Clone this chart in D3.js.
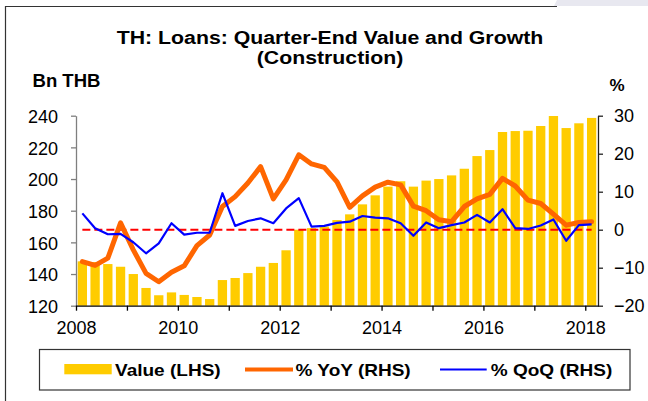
<!DOCTYPE html>
<html>
<head>
<meta charset="utf-8">
<script src="https://cdn.jsdelivr.net/npm/d3@7"></script>
<style>
  html, body { margin: 0; padding: 0; background: #fff; }
  svg { display: block; font-family: "Liberation Sans", Arial, sans-serif; }
</style>
</head>
<body>
<div id="chart"></div>
<script>
const W = 648, H = 401;

// quarters 2008Q1 .. 2018Q1
const START_YEAR = 2008;
const quarters = d3.range(41).map(i => `${START_YEAR + Math.floor(i / 4)}Q${i % 4 + 1}`);

// loan value, Bn THB (LHS)
const valueLHS = [
  148.0, 147.5, 146.3, 144.6, 140.0, 131.2, 126.6, 128.4, 126.8, 125.5,
  124.2, 136.2, 137.5, 140.6, 144.6, 147.0, 155.0, 168.0, 169.0, 170.0,
  174.1, 177.7, 184.0, 189.7, 195.2, 198.6, 195.2, 199.0, 200.0, 202.3,
  206.5, 214.5, 218.3, 229.7, 230.3, 230.5, 233.5, 239.8, 232.2, 235.2,
  238.6
];

// % YoY (RHS)
const yoy = [
  -8.4, -9.4, -7.5, 1.8, -5.3, -11.5, -13.7, -11.2, -9.5, -4.2,
  -1.4, 6.1, 8.7, 12.3, 16.6, 8.1, 13.1, 19.7, 17.3, 16.4,
  12.6, 5.9, 8.9, 11.2, 12.5, 11.8, 6.2, 5.0, 2.6, 2.1,
  6.1, 8.1, 9.3, 13.5, 11.5, 7.8, 6.9, 4.1, 1.2, 1.9,
  2.1
];

// % QoQ (RHS)
const qoq = [
  4.3, 0.4, -1.2, -1.1, -3.3, -6.2, -3.6, 1.7, -1.3, -0.8,
  -0.8, 9.6, 1.0, 2.3, 3.0, 1.7, 5.6, 8.3, 0.8, 1.0,
  1.8, 2.1, 3.6, 3.2, 3.0, 1.7, -1.6, 1.9, 0.4, 1.2,
  1.9, 3.9, 1.9, 5.4, 0.4, 0.2, 1.1, 2.7, -2.9, 1.2,
  1.4
];

const leftTicks = [120, 140, 160, 180, 200, 220, 240];
const rightTicks = [-20, -10, 0, 10, 20, 30];
const yearTicks = d3.range(2008, 2019);

const plot = { left: 76, right: 598, top: 115.7, bottom: 305.7 };

const svg = d3.select("#chart").append("svg")
  .attr("width", W)
  .attr("height", H);

// outer frame (left + top edges visible) and the grey corner
svg.append("path")
  .attr("d", "M557,0 L648,0 L648,6 L554,6 Z")
  .attr("fill", "#e8e8f0");
svg.append("path")
  .attr("d", "M5.5,401 L5.5,6.5 L557,6.5")
  .attr("fill", "none")
  .attr("stroke", "#333")
  .attr("stroke-width", 1.2);

const x = d3.scaleBand()
  .domain(quarters)
  .range([plot.left, plot.right])
  .paddingInner(0.27)
  .paddingOuter(0.135);
const xc = d => x(d) + x.bandwidth() / 2;

const xYear = d3.scaleLinear()
  .domain([START_YEAR, START_YEAR + quarters.length / 4])
  .range([plot.left, plot.right]);

const yL = d3.scaleLinear().domain([120, 240]).range([plot.bottom, plot.top]);
const yR = d3.scaleLinear().domain([-20, 30]).range([plot.bottom, plot.top]);

// stretched bold text helper
const label = (txt, tx, ty, size, anchor, sx, weight) => {
  svg.append("g")
    .attr("transform", `translate(${tx},${ty}) scale(${sx},1)`)
    .append("text")
    .attr("text-anchor", anchor)
    .attr("font-size", size)
    .attr("font-weight", weight || "bold")
    .attr("fill", "#000")
    .text(txt);
};

label("TH: Loans: Quarter-End Value and Growth", 330, 43.5, 19, "middle", 1.12);
label("(Construction)", 330, 63.5, 19, "middle", 1.12);
label("Bn THB", 32.5, 86.7, 18, "start", 1.03);
label("%", 617, 90.5, 17, "middle", 1.0);

// bars
svg.append("g")
  .selectAll("rect")
  .data(quarters)
  .enter()
  .append("rect")
  .attr("x", d => x(d))
  .attr("width", x.bandwidth())
  .attr("y", (d, i) => yL(valueLHS[i]))
  .attr("height", (d, i) => plot.bottom - yL(valueLHS[i]))
  .attr("fill", "#FFCC00");

// zero line
svg.append("path")
  .datum(quarters)
  .attr("d", d3.line().x(d => xc(d)).y(() => yR(0)))
  .attr("fill", "none")
  .attr("stroke", "#FF0000")
  .attr("stroke-width", 2)
  .attr("stroke-dasharray", "8,4");

const lineR = (vals) => d3.line()
  .x((d, i) => xc(quarters[i]))
  .y(d => yR(d))(vals);

svg.append("path")
  .attr("d", lineR(yoy))
  .attr("fill", "none")
  .attr("stroke", "#FF6600")
  .attr("stroke-width", 5)
  .attr("stroke-linejoin", "round")
  .attr("stroke-linecap", "round");

svg.append("path")
  .attr("d", lineR(qoq))
  .attr("fill", "none")
  .attr("stroke", "#0000FF")
  .attr("stroke-width", 2.2)
  .attr("stroke-linejoin", "round");

// axes
const styleAxis = (g, color) => {
  g.selectAll("path, line").attr("stroke", color).attr("stroke-width", 1.3);
  g.selectAll("text")
    .attr("font-size", 18)
    .attr("font-family", "'Liberation Sans', Arial, sans-serif")
    .attr("fill", "#000");
};

svg.append("g")
  .attr("transform", `translate(${plot.left},0)`)
  .call(d3.axisLeft(yL).tickValues(leftTicks).tickSize(5).tickSizeOuter(0).tickPadding(13))
  .call(g => styleAxis(g, "#7f7f7f"))
  .call(g => g.selectAll("text").attr("dy", "0.37em"));

svg.append("g")
  .attr("transform", `translate(${plot.right},0)`)
  .call(d3.axisRight(yR).tickValues(rightTicks).tickSize(5).tickSizeOuter(0).tickPadding(11))
  .call(g => styleAxis(g, "#222"));

svg.append("g")
  .attr("transform", `translate(0,${plot.bottom})`)
  .call(d3.axisBottom(xYear).tickValues(yearTicks).tickSize(5).tickSizeOuter(0).tickPadding(11)
    .tickFormat(d => d % 2 === 0 ? d : ""))
  .call(g => styleAxis(g, "#000"));

// legend
const legend = svg.append("g");
legend.append("rect")
  .attr("x", 39.5).attr("y", 349.5)
  .attr("width", 590.5).attr("height", 40.5)
  .attr("fill", "#fff")
  .attr("stroke", "#333")
  .attr("stroke-width", 1.2);
legend.append("rect")
  .attr("x", 64.3).attr("y", 364)
  .attr("width", 47.4).attr("height", 10.3)
  .attr("fill", "#FFCC00");
legend.append("line")
  .attr("x1", 245).attr("x2", 293).attr("y1", 369.5).attr("y2", 369.5)
  .attr("stroke", "#FF6600").attr("stroke-width", 4);
legend.append("line")
  .attr("x1", 440).attr("x2", 486.7).attr("y1", 369.5).attr("y2", 369.5)
  .attr("stroke", "#0000FF").attr("stroke-width", 2);
label("Value (LHS)", 115, 376, 17, "start", 1.12);
label("% YoY (RHS)", 295.5, 376, 17, "start", 1.12);
label("% QoQ (RHS)", 490.7, 376, 17, "start", 1.12);
</script>
</body>
</html>
